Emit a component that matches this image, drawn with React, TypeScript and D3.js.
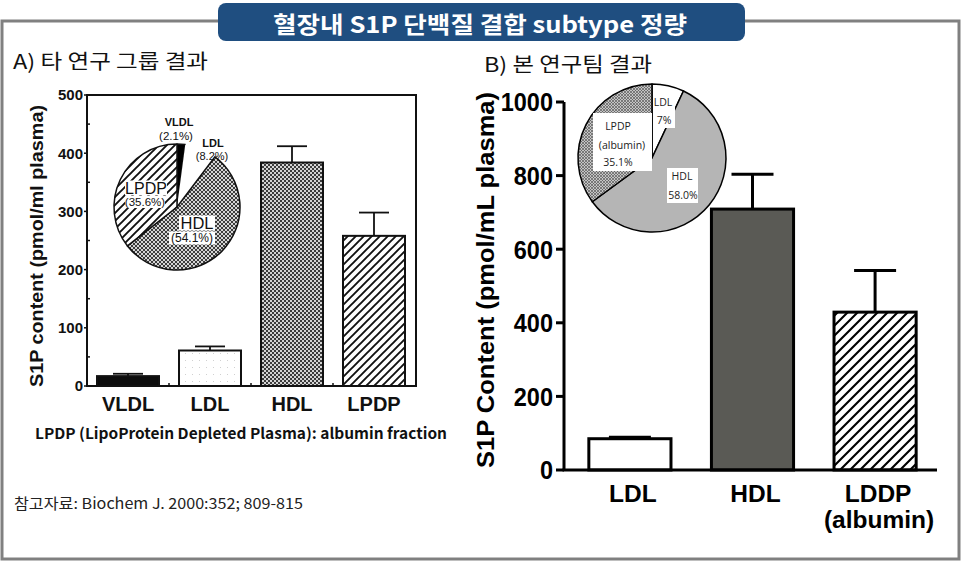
import React from "react";
import * as d3 from "d3";

const titleText = "혈장내 S1P 단백질 결합 subtype 정량";
const panelATitle = "A) 타 연구 그룹 결과";
const panelBTitle = "B) 본 연구팀 결과";
const footnote = "LPDP (LipoProtein Depleted Plasma): albumin fraction";
const reference = "참고자료: Biochem J. 2000:352; 809-815";

const leftCategories = ["VLDL", "LDL", "HDL", "LPDP"];
const leftValues = [17, 61, 384, 258];
const leftErrors = [4, 7, 28, 40];
const leftTicks = [0, 100, 200, 300, 400, 500];
const leftYLabel = "S1P content (pmol/ml plasma)";
const leftPieLabels = ["VLDL", "LDL", "HDL", "LPDP"];
const leftPieValues = [2.1, 8.2, 54.1, 35.6];

const rightCategories = ["LDL", "HDL", "LDDP"];
const rightCategorySub = ["", "", "(albumin)"];
const rightValues = [85, 709, 429];
const rightErrors = [4, 95, 113];
const rightTicks = [0, 200, 400, 600, 800, 1000];
const rightYLabel = "S1P Content (pmol/mL plasma)";
const rightPieLabels = ["LDL", "HDL", "LPDP"];
const rightPieValues = [7.0, 58.0, 35.1];

const KR = "'Noto Sans CJK KR', 'Noto Sans', sans-serif";
const ARIAL = "'Liberation Sans', Arial, sans-serif";

export default function App() {
  // ---------- left chart ----------
  const lx = d3.scaleBand<string>().domain(leftCategories).range([87, 415]).paddingInner(0.244).paddingOuter(0.122);
  const ly = d3.scaleLinear().domain([0, 500]).range([386, 95]);
  const leftFills: Record<string, string> = {
    VLDL: "#0d0d0d",
    LDL: "url(#dotsLight)",
    HDL: "url(#checker)",
    LPDP: "url(#hatchL)",
  };
  const lMinor = d3.range(50, 500, 100);
  const lpieCx = 177, lpieCy = 207, lpieR = 63;
  const lpie = d3.pie<number>().sort(null).startAngle(0).endAngle(2 * Math.PI)(leftPieValues);
  const larc = d3.arc<d3.PieArcDatum<number>>().innerRadius(0).outerRadius(lpieR);
  const lpieFill: Record<string, string> = { VLDL: "#000", LDL: "#fff", HDL: "url(#checker)", LPDP: "url(#hatchL)" };

  // ---------- right chart ----------
  const rx = d3.scaleBand<string>().domain(rightCategories).range([568, 937]).paddingInner(0.33).paddingOuter(0.17);
  const ry = d3.scaleLinear().domain([0, 1000]).range([470, 102]);
  const rightFills: Record<string, string> = { LDL: "#fff", HDL: "#5a5a55", LDDP: "url(#hatchR)" };
  const rpieCx = 652, rpieCy = 158, rpieR = 74;
  const rpie = d3.pie<number>().sort(null).startAngle(0).endAngle(2 * Math.PI)(rightPieValues);
  const rarc = d3.arc<d3.PieArcDatum<number>>().innerRadius(0).outerRadius(rpieR);
  const rpieFill: Record<string, string> = { LDL: "#fff", HDL: "#b5b5b5", LPDP: "url(#crossR)" };

  const boxed = (x: number, y: number, w: number, h: number) => (
    <rect x={x - w / 2} y={y - h / 2} width={w} height={h} fill="#fff" />
  );

  return (
    <svg width={963} height={564} style={{ position: "absolute", left: 0, top: 0, display: "block", background: "#fff" }}>
      <defs>
        <pattern id="hatchL" patternUnits="userSpaceOnUse" width={8} height={8}>
          <rect width={8} height={8} fill="#fff" />
          <path d="M-2,2 L2,-2 M0,8 L8,0 M6,10 L10,6" stroke="#111" strokeWidth={1.9} />
        </pattern>
        <pattern id="hatchR" patternUnits="userSpaceOnUse" width={10} height={10}>
          <rect width={10} height={10} fill="#fff" />
          <path d="M-2,2 L2,-2 M0,10 L10,0 M8,12 L12,8" stroke="#000" strokeWidth={2.1} />
        </pattern>
        <pattern id="checker" patternUnits="userSpaceOnUse" width={4} height={4}>
          <rect width={4} height={4} fill="#d4d4d4" />
          <rect x={0} y={0} width={2} height={2} fill="#3c3c3c" />
          <rect x={2} y={2} width={2} height={2} fill="#3c3c3c" />
        </pattern>
        <pattern id="dotsLight" patternUnits="userSpaceOnUse" width={7} height={7}>
          <rect width={7} height={7} fill="#fff" />
          <rect x={3} y={3} width={1} height={1} fill="#d0d0d0" />
        </pattern>
        <pattern id="crossR" patternUnits="userSpaceOnUse" width={3} height={3}>
          <rect width={3} height={3} fill="#c4c4c4" />
          <path d="M0,0 L3,3 M3,0 L0,3" stroke="#5a5a5a" strokeWidth={0.7} />
        </pattern>
      </defs>

      {/* outer frame */}
      <rect x={2} y={21} width={957} height={538} fill="none" stroke="#808080" strokeWidth={3} />
      {/* title box */}
      <rect x={218} y={3} width={527} height={38} rx={8} fill="#1f4e80" />
      <text x={480} y={33} textAnchor="middle" fill="#fff" fontFamily={KR} fontWeight={700} fontSize={23}
        textLength={414} lengthAdjust="spacingAndGlyphs">{titleText}</text>

      <text x={13} y={69} fontFamily={KR} fontSize={20} fill="#111" textLength={195} lengthAdjust="spacingAndGlyphs">{panelATitle}</text>
      <text x={484} y={72} fontFamily={KR} fontSize={20} fill="#111" textLength={168} lengthAdjust="spacingAndGlyphs">{panelBTitle}</text>

      {/* ================= LEFT CHART ================= */}
      <g>
        {leftCategories.map((c, i) => {
          const x = lx(c)!;
          const w = lx.bandwidth();
          const cx = x + w / 2;
          const yv = ly(leftValues[i]);
          const ye = ly(leftValues[i] + leftErrors[i]);
          return (
            <g key={c}>
              <line x1={cx} x2={cx} y1={yv} y2={ye} stroke="#111" strokeWidth={1.8} />
              <line x1={cx - 15} x2={cx + 15} y1={ye} y2={ye} stroke="#111" strokeWidth={1.8} />
              <rect x={x} y={yv} width={w} height={ly(0) - yv} fill={leftFills[c]} stroke="#111" strokeWidth={2} />
            </g>
          );
        })}
        <rect x={87} y={95} width={329} height={291} fill="none" stroke="#111" strokeWidth={2} />
        {leftTicks.map((t) => (
          <g key={t}>
            <line x1={84} x2={87} y1={ly(t)} y2={ly(t)} stroke="#111" strokeWidth={1.5} />
            <text x={83} y={ly(t)} dy="0.36em" textAnchor="end" fontFamily={ARIAL} fontWeight={700} fontSize={15} fill="#111">{t}</text>
          </g>
        ))}
        {lMinor.map((t) => (
          <line key={t} x1={87} x2={90} y1={ly(t)} y2={ly(t)} stroke="#111" strokeWidth={1.5} />
        ))}
        {leftCategories.slice(0, -1).map((c, i) => {
          const xb = (lx(c)! + lx.bandwidth() + lx(leftCategories[i + 1])!) / 2;
          return <line key={c} x1={xb} x2={xb} y1={386} y2={383} stroke="#111" strokeWidth={1.5} />;
        })}
        {leftCategories.map((c) => (
          <text key={c} x={lx(c)! + lx.bandwidth() / 2} y={411} textAnchor="middle" fontFamily={ARIAL} fontWeight={700} fontSize={20} fill="#111">{c}</text>
        ))}
        <text transform={`translate(43,246) rotate(-90)`} textAnchor="middle" fontFamily={ARIAL} fontWeight={700} fontSize={18} fill="#111"
          textLength={282} lengthAdjust="spacingAndGlyphs">{leftYLabel}</text>

        {/* left pie */}
        <g transform={`translate(${lpieCx},${lpieCy})`}>
          {lpie.map((d, i) => (
            <path key={i} d={larc(d)!} fill={lpieFill[leftPieLabels[i]]}
              stroke={leftPieLabels[i] === "LDL" ? "none" : "#111"} strokeWidth={1.5} strokeLinejoin="round" />
          ))}
        </g>
        {boxed(lpieCx - 31, lpieCy - 19, 42, 15)}
        {boxed(lpieCx - 32, lpieCy - 5, 40, 12)}
        {boxed(lpieCx + 20, lpieCy + 16, 36, 15)}
        {boxed(lpieCx + 15, lpieCy + 31, 46, 13)}
        <g fontFamily={ARIAL} fill="#111" textAnchor="middle">
          <text x={lpieCx + 2} y={lpieCy - 85} dy="0.36em" fontWeight={700} fontSize={11}>{leftPieLabels[0]}</text>
          <text x={lpieCx - 1} y={lpieCy - 71} dy="0.36em" fontSize={11.5}>({leftPieValues[0]}%)</text>
          <text x={lpieCx + 36} y={lpieCy - 64} dy="0.36em" fontWeight={700} fontSize={11}>{leftPieLabels[1]}</text>
          <text x={lpieCx + 35} y={lpieCy - 51} dy="0.36em" fontSize={11}>({leftPieValues[1]}%)</text>
          <text x={lpieCx - 31} y={lpieCy - 19} dy="0.36em" fontSize={16}>{leftPieLabels[3]}</text>
          <text x={lpieCx - 32} y={lpieCy - 5} dy="0.36em" fontSize={11.5}>({leftPieValues[3]}%)</text>
          <text x={lpieCx + 20} y={lpieCy + 16} dy="0.36em" fontSize={16.5}>{leftPieLabels[2]}</text>
          <text x={lpieCx + 15} y={lpieCy + 31} dy="0.36em" fontSize={12}>({leftPieValues[2]}%)</text>
        </g>

        <text x={35} y={439} fontFamily={KR} fontWeight={700} fontSize={15} fill="#111" textLength={412} lengthAdjust="spacingAndGlyphs">{footnote}</text>
        <text x={14} y={509} fontFamily={KR} fontSize={15} fill="#222" textLength={289} lengthAdjust="spacingAndGlyphs">{reference}</text>
      </g>

      {/* ================= RIGHT CHART ================= */}
      <g>
        {rightCategories.map((c, i) => {
          const x = rx(c)!;
          const w = rx.bandwidth();
          const cx = x + w / 2;
          const yv = ry(rightValues[i]);
          const ye = ry(rightValues[i] + rightErrors[i]);
          return (
            <g key={c}>
              <line x1={cx} x2={cx} y1={yv} y2={ye} stroke="#000" strokeWidth={3} />
              <line x1={cx - 21} x2={cx + 21} y1={ye} y2={ye} stroke="#000" strokeWidth={3} />
              <rect x={x} y={yv} width={w} height={ry(0) - yv} fill={rightFills[c]} stroke="#000" strokeWidth={3} />
            </g>
          );
        })}
        <line x1={564} x2={564} y1={ry(1000)} y2={ry(0)} stroke="#000" strokeWidth={3} />
        <line x1={562.5} x2={937} y1={ry(0)} y2={ry(0)} stroke="#000" strokeWidth={3} />
        {rightTicks.map((t) => (
          <g key={t}>
            <line x1={556} x2={564} y1={ry(t)} y2={ry(t)} stroke="#000" strokeWidth={3} />
            <text transform={`translate(553,${ry(t)}) scale(1,1.12)`} dy="0.36em" textAnchor="end" fontFamily={ARIAL} fontWeight={700} fontSize={23.5} fill="#000">{t}</text>
          </g>
        ))}
        {rightCategories.map((c, i) => (
          <g key={c}>
            <text x={rx(c)! + rx.bandwidth() / 2 + 3} y={502} textAnchor="middle" fontFamily={ARIAL} fontWeight={700} fontSize={24.5} fill="#000">{c}</text>
            {rightCategorySub[i] && (
              <text x={rx(c)! + rx.bandwidth() / 2 + 4} y={528} textAnchor="middle" fontFamily={ARIAL} fontWeight={700} fontSize={24.5} fill="#000">{rightCategorySub[i]}</text>
            )}
          </g>
        ))}
        <text transform={`translate(494,280) rotate(-90)`} textAnchor="middle" fontFamily={ARIAL} fontWeight={700} fontSize={24} fill="#000"
          textLength={376} lengthAdjust="spacingAndGlyphs">{rightYLabel}</text>

        {/* right pie */}
        <g transform={`translate(${rpieCx},${rpieCy})`}>
          {rpie.map((d, i) => (
            <path key={i} d={rarc(d)!} fill={rpieFill[rightPieLabels[i]]} stroke="#000" strokeWidth={1.5} strokeLinejoin="round" />
          ))}
        </g>
        <rect x={rpieCx + 1} y={rpieCy - 63} width={22} height={33} fill="#fff" />
        <rect x={rpieCx - 59} y={rpieCy - 45} width={59} height={58} fill="#fff" />
        <rect x={rpieCx + 15} y={rpieCy + 10} width={31} height={35} fill="#fff" />
        <g fontFamily="'Open Sans', 'Noto Sans', sans-serif" fontSize={10.5} fill="#222" textAnchor="middle">
          <text x={rpieCx + 11} y={rpieCy - 56} dy="0.35em">{rightPieLabels[0]}</text>
          <text x={rpieCx + 12} y={rpieCy - 38} dy="0.35em">{rightPieValues[0].toFixed(0)}%</text>
          <text x={rpieCx - 34} y={rpieCy - 32} dy="0.35em">{rightPieLabels[2]}</text>
          <text x={rpieCx - 30} y={rpieCy - 13} dy="0.35em">(albumin)</text>
          <text x={rpieCx - 34} y={rpieCy + 4} dy="0.35em">{rightPieValues[2].toFixed(1)}%</text>
          <text x={rpieCx + 30} y={rpieCy + 18} dy="0.35em">{rightPieLabels[1]}</text>
          <text x={rpieCx + 31} y={rpieCy + 37} dy="0.35em">{rightPieValues[1].toFixed(1)}%</text>
        </g>
      </g>
    </svg>
  );
}
